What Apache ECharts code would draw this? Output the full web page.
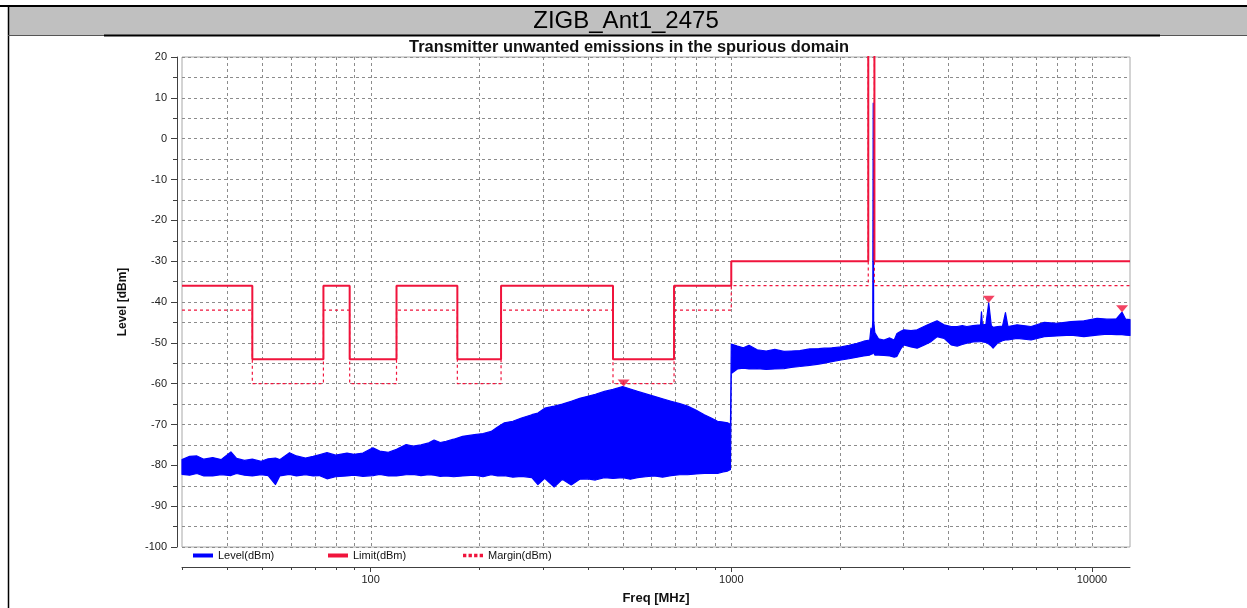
<!DOCTYPE html>
<html>
<head>
<meta charset="utf-8">
<script src="https://cdn.jsdelivr.net/npm/echarts@6/dist/echarts.min.js"></script>
<style>
html,body{margin:0;padding:0;background:#fff;}
#chart{width:1247px;height:608px;}
</style>
</head>
<body>
<div id="chart"></div>
<script>
// ---------- data ----------
const levelFreq = [30,31.5,33,34.5,36.5,38.5,41,42.5,44.7,47,49.7,52,54.5,56,59.6,62.3,66,69.3,72,75.7,80,86,90,95.2,101.5,106,112,118,125.5,131,138,145,150,156,162,170,180,194,205,216,225,235,248,262,280,291,304,323,340,360,380,400,420,445,470,500,525,550,580,612,645,681,720,757,800,842,880,916,950,977,995,
  1000,1040,1080,1120,1180,1250,1320,1400,1466,1550,1650,1750,1810,1900,2018,2120,2233,2330,2420,2440,2455,2468,2475,2482,2500,2560,2650,2750,2830,2880,2950,3010,3150,3276,3420,3580,3720,3890,4070,4230,4370,4500,4680,4910,4940,4970,5080,5174,5260,5320,5480,5650,5757,5850,6200,6780,7380,8000,8750,9500,10330,11000,11700,12120,12400,12750];
const levelMax = [-78.6,-77.8,-77.7,-78.5,-78.1,-78.6,-76.7,-78.3,-78.8,-78.5,-79.0,-78.4,-78.2,-78.6,-76.9,-77.7,-78.2,-77.8,-77.4,-76.9,-77.5,-77.0,-77.3,-77.0,-75.7,-76.5,-76.8,-76.1,-74.9,-75.3,-75.0,-74.5,-73.8,-74.4,-74.1,-73.6,-72.9,-72.5,-72.2,-71.7,-70.6,-69.6,-69.2,-68.4,-67.6,-67.2,-66.0,-65.5,-65.0,-64.3,-63.6,-63.1,-62.6,-61.9,-61.4,-60.7,-61.3,-61.9,-62.5,-63.1,-63.7,-64.3,-64.9,-65.5,-66.5,-67.6,-68.4,-69.2,-69.4,-69.6,-70.0,
  -50.3,-50.8,-51.2,-50.6,-51.7,-52.0,-51.6,-52.1,-52.0,-51.9,-51.5,-51.4,-51.3,-51.2,-51.0,-50.6,-50.1,-49.6,-49.3,-46.4,-48.5,-44.5,8.7,-44.5,-47.5,-49.0,-49.3,-48.8,-49.3,-47.7,-47.2,-46.8,-47.0,-46.8,-46.0,-45.2,-44.6,-45.6,-46.0,-46.0,-45.8,-46.0,-45.8,-45.6,-42.4,-45.6,-45.5,-40.2,-45.8,-46.2,-46.0,-45.9,-42.6,-46.0,-45.6,-46.0,-45.0,-45.2,-44.8,-44.6,-44.0,-44.2,-44.1,-42.5,-44.2,-44.3];
const levelMin = [-82.2,-82.4,-82.0,-82.6,-82.6,-82.3,-82.5,-82.0,-82.4,-82.6,-82.3,-82.5,-84.7,-82.6,-82.2,-82.6,-82.3,-82.6,-82.5,-83.3,-82.8,-82.6,-82.4,-82.7,-82.5,-82.2,-82.6,-82.6,-82.3,-82.2,-82.5,-82.3,-82.4,-82.7,-82.6,-82.8,-82.6,-82.4,-82.8,-82.3,-82.6,-82.5,-82.9,-82.7,-83.0,-84.7,-83.2,-85.3,-83.4,-84.8,-83.4,-83.3,-83.6,-83.0,-83.2,-83.0,-83.4,-83.0,-82.8,-82.6,-82.9,-82.5,-82.3,-82.3,-82.1,-82.0,-81.9,-82.0,-81.6,-81.4,-81.0,
  -57.5,-56.4,-56.2,-56.4,-56.3,-56.5,-56.4,-56.3,-56.0,-55.8,-55.5,-55.2,-55.0,-54.6,-54.2,-53.9,-53.5,-53.2,-53.0,-52.8,-52.8,-52.5,-52.5,-52.5,-53.0,-53.0,-53.1,-53.2,-53.5,-53.3,-51.5,-50.5,-51.0,-51.3,-50.6,-49.7,-48.5,-48.9,-50.5,-50.8,-50.4,-50.1,-49.8,-49.7,-49.6,-49.8,-49.9,-50.3,-50.8,-51.3,-50.0,-49.5,-49.3,-49.3,-48.9,-49.3,-48.5,-48.3,-48.1,-48.5,-48.1,-47.9,-48.0,-48.0,-48.1,-48.2];

const limitStart = [30,47,74,87.5,118,174,230,470,694,1000,2398,2494];
const limitStop  = [47,74,87.5,118,174,230,470,694,1000,2398,2494,12750];
const limitValue = [-36,-54,-36,-54,-36,-54,-36,-54,-36,-30,60,-30];
const marginValue = [-42,-60,-42,-60,-42,-60,-42,-60,-42,-36,54,-36];

const markerFreq  = [503, 5174, 12120];
const markerLevel = [-60.7, -40.2, -42.5];

const xLabelValues = [100, 1000, 10000];
const gridFreqs = [40,50,60,70,80,90,100,200,300,400,500,600,700,800,900,1000,2000,3000,4000,5000,6000,7000,8000,9000,10000];
const minorTickFreqs = [30,40,50,60,70,80,90,200,300,400,500,600,700,800,900,2000,3000,4000,5000,6000,7000,8000,9000];

// ---------- styling ----------
const FONT = '"Liberation Sans", Arial, sans-serif';
const BLUE = '#0000ff';
const RED = '#f0143c';
const GRID_COL = '#8c8c8c';

function stepPoints(starts, stops, vals) {
  const pts = [];
  for (let i = 0; i < starts.length; i++) {
    pts.push([starts[i], vals[i]], [stops[i], vals[i]]);
  }
  return pts;
}

const chart = echarts.init(document.getElementById('chart'), null, {renderer: 'canvas'});

const legendText = {fontFamily: FONT, fontSize: 11, color: '#111'};

const option = {
  backgroundColor: '#ffffff',
  animation: false,
  graphic: [
    {type: 'rect', shape: {x: 8, y: 7, width: 1239, height: 28}, style: {fill: '#c0c0c0'}, z: 0},
    {type: 'line', shape: {x1: 0, y1: 6, x2: 1247, y2: 6}, style: {stroke: '#000', lineWidth: 2}},
    {type: 'line', shape: {x1: 8.5, y1: 6, x2: 8.5, y2: 608}, style: {stroke: '#000', lineWidth: 1.5}},
    {type: 'line', shape: {x1: 8, y1: 35.5, x2: 1247, y2: 35.5}, style: {stroke: '#555', lineWidth: 1}},
    {type: 'line', shape: {x1: 104, y1: 35.5, x2: 1160, y2: 35.5}, style: {stroke: '#000', lineWidth: 2}},
    {type: 'text', x: 626, y: 21, style: {text: 'ZIGB_Ant1_2475', fill: '#000', font: '24px "Liberation Sans", Arial, sans-serif', align: 'center', verticalAlign: 'middle'}},
    {type: 'text', x: 629, y: 47, style: {text: 'Transmitter unwanted emissions in the spurious domain', fill: '#111', font: 'bold 16.4px "Liberation Sans", Arial, sans-serif', align: 'center', verticalAlign: 'middle'}}
  ],
  grid: {left: 182, right: 117, top: 57, bottom: 61, outerBoundsMode: 'none', containLabel: false,
         show: true, borderColor: '#a8a8a8', borderWidth: 1, backgroundColor: '#fff'},
  legend: [
    {left: 188, top: 545, itemWidth: 20, itemHeight: 4, selectedMode: false, textStyle: legendText,
     data: [{name: 'Level(dBm)', icon: 'rect', itemStyle: {color: BLUE, borderWidth: 0}}]},
    {left: 323, top: 545, itemWidth: 20, itemHeight: 4, selectedMode: false, textStyle: legendText,
     data: [{name: 'Limit(dBm)', icon: 'rect', itemStyle: {color: RED, borderWidth: 0}}]},
    {left: 458, top: 545, itemWidth: 20, itemHeight: 4, selectedMode: false, textStyle: legendText,
     data: [{name: 'Margin(dBm)', icon: 'path://M0,0h3v3h-3zM5,0h3v3h-3zM10,0h3v3h-3zM15,0h3v3h-3z', itemStyle: {color: RED, borderWidth: 0}}]}
  ],
  xAxis: {
    type: 'log', logBase: 10, min: 30, max: 12750, offset: 20,
    axisLine: {show: true, onZero: false, lineStyle: {color: '#404040', width: 1}},
    axisTick: {show: true, length: 5, lineStyle: {color: '#404040'}},
    axisLabel: {
      fontFamily: FONT, fontSize: 11, color: '#222', margin: 7,
      showMinLabel: false, showMaxLabel: false,
      formatter: v => xLabelValues.indexOf(Math.round(v)) >= 0 ? String(Math.round(v)) : ''
    },
    splitLine: {show: false},
    minorTick: {show: false},
    name: 'Freq [MHz]', nameLocation: 'middle', nameGap: 25,
    nameTextStyle: {fontFamily: FONT, fontWeight: 'bold', fontSize: 13, color: '#111'}
  },
  yAxis: {
    type: 'value', min: -100, max: 20, interval: 10, offset: 5,
    axisLine: {show: true, lineStyle: {color: '#404040', width: 1}},
    axisTick: {show: true, length: 6, lineStyle: {color: '#404040'}},
    minorTick: {show: true, splitNumber: 2, length: 4, lineStyle: {color: '#404040'}},
    splitLine: {show: true, lineStyle: {color: GRID_COL, width: 1, type: [3, 3]}},
    minorSplitLine: {show: true, lineStyle: {color: GRID_COL, width: 1, type: [3, 3]}},
    axisLabel: {fontFamily: FONT, fontSize: 11, color: '#222', margin: 10},
    name: 'Level [dBm]', nameLocation: 'middle', nameGap: 48, nameRotate: 90,
    nameTextStyle: {fontFamily: FONT, fontWeight: 'bold', fontSize: 12, color: '#111'}
  },
  series: [
    {
      name: 'vgrid', type: 'custom', silent: true, z: 1,
      data: gridFreqs.map(f => [f, -100]),
      renderItem: (params, api) => {
        const f = api.value(0);
        const t = api.coord([f, 20]);
        const b = api.coord([f, -100]);
        const x = Math.round(t[0]) + 0.5;
        return {type: 'line', shape: {x1: x, y1: t[1], x2: x, y2: b[1]},
                style: {stroke: GRID_COL, lineWidth: 1, lineDash: [3, 3]}};
      }
    },
    {
      name: 'xminor', type: 'custom', silent: true, z: 1,
      data: minorTickFreqs.map(f => [f, -100]),
      renderItem: (params, api) => {
        const f = api.value(0);
        const b = api.coord([f, -100]);
        const x = Math.round(b[0]) + 0.5;
        const y0 = b[1] + 20;
        return {type: 'line', shape: {x1: x, y1: y0, x2: x, y2: y0 + 3},
                style: {stroke: '#404040', lineWidth: 1}};
      }
    },
    {
      // measured trace: band between the max and min envelopes at each frequency
      name: 'Level(dBm)', type: 'custom', silent: true, z: 3,
      itemStyle: {color: BLUE},
      data: levelFreq.map((f, i) => [f, levelMax[i], levelMin[i]]),
      encode: {x: 0, y: [1, 2]},
      renderItem: (params, api) => {
        if (params.dataIndexInside !== 0) return null;
        const n = params.dataInsideLength;
        const upper = [], lower = [];
        for (let i = 0; i < n; i++) {
          const f = api.value(0, i);
          upper.push(api.coord([f, api.value(1, i)]));
          lower.push(api.coord([f, api.value(2, i)]));
        }
        const pts = upper.concat(lower.reverse());
        return {type: 'polygon', shape: {points: pts},
                style: {fill: BLUE, stroke: BLUE, lineWidth: 1.2, lineJoin: 'round'}};
      }
    },
    {
      name: 'Limit(dBm)', type: 'line', data: stepPoints(limitStart, limitStop, limitValue),
      symbol: 'none', z: 4, silent: true,
      lineStyle: {color: RED, width: 2}, itemStyle: {color: RED}
    },
    {
      name: 'Margin(dBm)', type: 'line', data: stepPoints(limitStart, limitStop, marginValue),
      symbol: 'none', z: 4, silent: true,
      lineStyle: {color: RED, width: 1.2, type: [3, 3]}, itemStyle: {color: RED}
    },
    {
      name: 'markers', type: 'scatter', z: 5, silent: true,
      data: markerFreq.map((f, i) => [f, markerLevel[i]]),
      symbol: 'path://M0,0L12,0L6,7Z', symbolSize: [12, 7], symbolOffset: [0, -3.5],
      itemStyle: {color: RED}
    }
  ]
};
chart.setOption(option);
</script>
</body>
</html>
